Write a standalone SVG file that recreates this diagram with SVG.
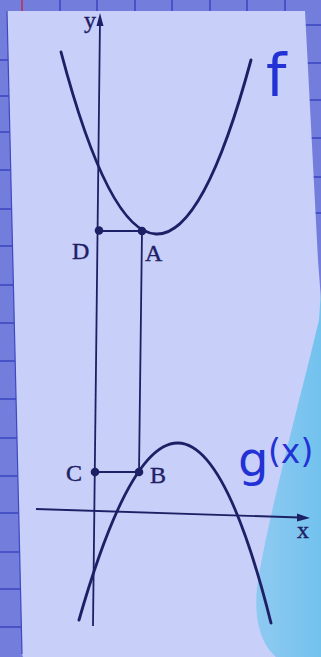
<svg xmlns="http://www.w3.org/2000/svg" width="321" height="657" viewBox="0 0 321 657">
<defs>
<style>
.grid{stroke:#3d48c2;stroke-width:1.6}
.curve{stroke:#1e2066;fill:none;stroke-width:2.9;stroke-linecap:round}
.thin{stroke:#1e2066;fill:none;stroke-width:1.8}
.lbl{font-family:"Liberation Serif","Times New Roman",serif;fill:#1e2066;stroke:#1e2066;stroke-width:0.4}
.hand{font-family:"DejaVu Sans","Noto Sans",sans-serif;fill:#2232d4}
.dot{fill:#1e2066}
</style>
<linearGradient id="cy" x1="0" y1="0" x2="1" y2="0">
<stop offset="0" stop-color="#80c8f0" stop-opacity="0.8"/>
<stop offset="1" stop-color="#72c2ee"/>
</linearGradient>
</defs>
<rect x="0" y="0" width="321" height="657" fill="#737edc"/>
<g id="grid">
<line class="grid" x1="60" y1="0" x2="60" y2="12"/>
<line class="grid" x1="97" y1="0" x2="97" y2="12"/>
<line class="grid" x1="135" y1="0" x2="135" y2="12"/>
<line class="grid" x1="172" y1="0" x2="172" y2="12"/>
<line class="grid" x1="210" y1="0" x2="210" y2="12"/>
<line class="grid" x1="247" y1="0" x2="247" y2="12"/>
<line class="grid" x1="285" y1="0" x2="285" y2="12"/>
<line x1="22" y1="0" x2="22" y2="12" stroke="#c0305a" stroke-width="1.6"/>
<line class="grid" x1="0" y1="60" x2="9" y2="60"/>
<line class="grid" x1="0" y1="96" x2="10" y2="96"/>
<line class="grid" x1="0" y1="132" x2="10" y2="132"/>
<line class="grid" x1="0" y1="170" x2="11" y2="170"/>
<line class="grid" x1="0" y1="209" x2="11" y2="209"/>
<line class="grid" x1="0" y1="246" x2="12" y2="246"/>
<line class="grid" x1="0" y1="285" x2="13" y2="285"/>
<line class="grid" x1="0" y1="323" x2="14" y2="323"/>
<line class="grid" x1="0" y1="361" x2="15" y2="361"/>
<line class="grid" x1="0" y1="399" x2="16" y2="399"/>
<line class="grid" x1="0" y1="438" x2="17" y2="438"/>
<line class="grid" x1="0" y1="476" x2="18" y2="476"/>
<line class="grid" x1="0" y1="513" x2="19" y2="513"/>
<line class="grid" x1="0" y1="552" x2="20" y2="552"/>
<line class="grid" x1="0" y1="589" x2="21" y2="589"/>
<line class="grid" x1="0" y1="627" x2="22" y2="627"/>
<line class="grid" x1="305" y1="25" x2="321" y2="25"/>
<line class="grid" x1="306" y1="63" x2="321" y2="63"/>
<line class="grid" x1="307" y1="100" x2="321" y2="100"/>
<line class="grid" x1="308" y1="138" x2="321" y2="138"/>
<line class="grid" x1="309" y1="177" x2="321" y2="177"/>
<line class="grid" x1="310" y1="213" x2="321" y2="213"/>
<line class="grid" x1="60" y1="651" x2="60" y2="657"/>
<line class="grid" x1="100" y1="651" x2="100" y2="657"/>
</g>
<path d="M7,11 L305,11 L318,260 L321,300 L321,657 L23,657 L22,654 Z" fill="#c8cff8"/>
<path d="M7,11 L22,654" stroke="#3d48c2" stroke-width="1.2" fill="none"/>
<path d="M321,290 L319,320 C300,400 272,500 258,580 C252,620 262,645 276,657 L321,657 Z" fill="url(#cy)"/>
<g id="axes">
<line class="thin" x1="100" y1="20" x2="93" y2="626"/>
<polygon class="dot" points="100,13 96.5,26 103.5,26"/>
<line class="thin" x1="36" y1="509" x2="300" y2="517.5"/>
<polygon class="dot" points="310,518 297,513.5 297,521.5"/>
<text class="lbl" x="84" y="28" font-size="24">y</text>
<text class="lbl" x="297" y="538" font-size="24">x</text>
</g>
<g id="curves">
<path id="f" class="curve" d="M61,52 Q156,412 251,60"/>
<path id="g" class="curve" d="M79,620 Q181,264.5 271,623"/>
</g>
<g id="connectors">
<line class="thin" x1="99" y1="231" x2="142" y2="231"/>
<line class="thin" x1="142" y1="231" x2="139" y2="472"/>
<line class="thin" x1="95" y1="472" x2="139" y2="472"/>
</g>
<g id="D"><circle class="dot" cx="99" cy="230.5" r="4.3"/><text class="lbl" x="72" y="259" font-size="24">D</text></g>
<g id="A"><circle class="dot" cx="142" cy="231" r="4.3"/><text class="lbl" x="145" y="261" font-size="24">A</text></g>
<g id="C"><circle class="dot" cx="95" cy="472" r="4.3"/><text class="lbl" x="66" y="481" font-size="24">C</text></g>
<g id="B"><circle class="dot" cx="139" cy="472" r="4.3"/><text class="lbl" x="150" y="483" font-size="24">B</text></g>
<g id="label-f"><text class="hand" x="266" y="96" font-size="58">f</text></g>
<g id="label-g"><text class="hand" x="238" y="476" font-size="48">g</text><text class="hand" x="268" y="463" font-size="33">(x)</text></g>
</svg>
